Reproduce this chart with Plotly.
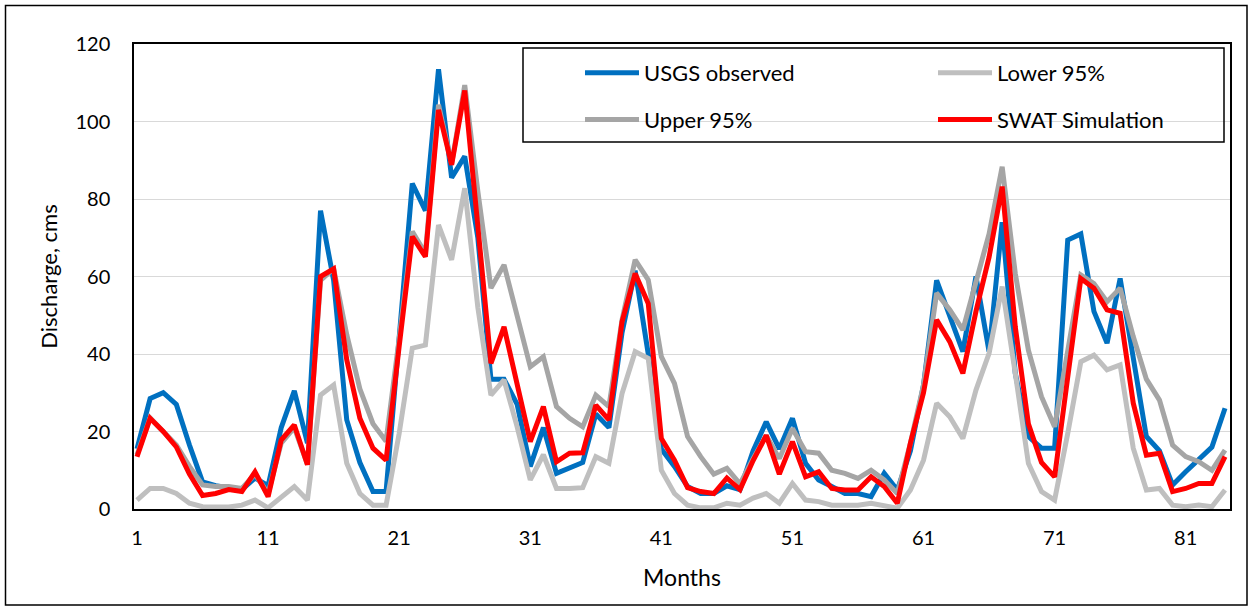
import plotly.graph_objects as go

months = list(range(1, 85))

usgs_observed = [15.5, 28.5, 30, 27, 16.5, 7, 6, 5.5, 5, 8,
                 6, 21, 30.5, 17, 77, 59, 23, 12, 4.5, 4.5,
                 45, 84, 77, 113.5, 85.5, 91, 70, 33.5, 33.5, 27,
                 11, 21, 9.2, 10.5, 12, 24.5, 21, 45.5, 61.5, 40,
                 15.5, 11, 5.8, 4, 4, 6, 5, 15, 22.5, 15.5,
                 23.4, 11.8, 7.5, 5.8, 4, 4, 3.2, 9.2, 4.9, 15,
                 32, 59, 50, 40.6, 60, 40.6, 74, 35, 18.7, 15.7,
                 15.7, 69.4, 71, 51, 42.8, 59.5, 39, 18.7, 15, 6.2,
                 9.6, 12.6, 16, 26]

lower_95 = [2.3, 5.3, 5.3, 4, 1.5, 0.6, 0.5, 0.5, 1, 2.3,
            0.3, 3.2, 5.8, 2.3, 29.4, 32, 11.8, 4, 1, 1,
            19.5, 41.5, 42.3, 73.3, 64.3, 82.8, 52, 29.4, 33.3, 21.2,
            7.5, 14, 5.3, 5.3, 5.5, 13.5, 11.8, 29.8, 40.6, 38.9,
            10, 4, 1, 0.3, 0.3, 1.5, 1, 2.8, 4, 1.5,
            6.6, 2.3, 1.9, 1, 1, 1, 1.5, 1, 0.2, 4.9,
            12.6, 27.3, 23.8, 18.2, 30.7, 40.2, 57.4, 35, 11.8, 4.5,
            2.3, 19.5, 38, 39.7, 35.9, 37.2, 15.7, 4.9, 5.3, 1,
            0.6, 1, 0.6, 4.9]

upper_95 = [14, 23.5, 20, 16.5, 11, 6.2, 5.8, 5.8, 5.3, 9,
            4, 17, 21, 11.5, 59, 62, 45, 31, 22, 17.5,
            44, 71.6, 66, 104.3, 89, 109.4, 82, 57, 63, 50,
            36.7, 39.3, 26.4, 23.4, 21.2, 29.4, 26.4, 48.8, 64.3, 59.1,
            39.3, 32.4, 18.7, 13.5, 9, 10.5, 6.5, 13, 19, 13,
            20.8, 14.8, 14.4, 10, 9.2, 7.9, 10, 7.5, 4, 17,
            32, 55.7, 51.4, 46.2, 59, 71, 88.3, 60.8, 41, 29,
            21.2, 41, 60.4, 58.2, 53.5, 57, 44.5, 33.5, 28.1, 16.5,
            13.5, 12.2, 10, 15.2]

swat_simulation = [13.5, 23.4, 20, 16, 9, 3.5, 4, 5, 4.5, 9.6,
                   3.2, 17.8, 21.7, 11.4, 60, 62, 38.5, 23.4, 15.7, 12.6,
                   42, 70.3, 65.1, 103, 88.8, 108, 73, 37.6, 47, 31.6,
                   17.4, 26.4, 12.2, 14.4, 14.5, 26.8, 23, 48.3, 60.8, 53,
                   18.2, 12.6, 5.5, 4.5, 4, 8, 5, 12.5, 19, 9,
                   17.4, 8.3, 9.6, 5.3, 4.9, 4.9, 8.3, 5.8, 1.5, 17,
                   30, 48.8, 43.2, 35, 51, 65, 83.2, 47, 22, 12,
                   8.3, 34, 59.5, 57, 51.4, 50.5, 27.3, 13.9, 14.4, 4.5,
                   5.3, 6.6, 6.6, 13.5]

x_tick_labels = [1, 11, 21, 31, 41, 51, 61, 71, 81]
y_tick_labels = [0, 20, 40, 60, 80, 100, 120]

FONT = "Lato"
W, H = 1250, 607
L, R, T, B = 134, 20, 44, 98
PW, PH = W - L - R, H - T - B


def px_x(p):
    return (p - L) / PW


def px_y(p):
    return (H - B - p) / PH


fig = go.Figure()
series = [
    ("USGS observed", usgs_observed, "#0070C0", "legend"),
    ("Lower 95%", lower_95, "#BFBFBF", "legend2"),
    ("Upper 95%", upper_95, "#A5A5A5", "legend"),
    ("SWAT Simulation", swat_simulation, "#FF0000", "legend2"),
]
for i, (name, vals, col, lg) in enumerate(series):
    fig.add_trace(go.Scatter(
        x=months, y=vals, mode="lines", name=name,
        line=dict(color=col, width=5),
        legend=lg, legendgroup=f"g{i}",
    ))

leg_common = dict(
    orientation="v", xanchor="left", yanchor="top",
    bgcolor="rgba(0,0,0,0)", borderwidth=0,
    font=dict(family=FONT, size=22, color="#000000"),
    itemwidth=54, tracegroupgap=15,
)

fig.update_layout(
    width=W, height=H,
    margin=dict(l=L, r=R, t=T, b=B, pad=0),
    paper_bgcolor="white", plot_bgcolor="white",
    font=dict(family=FONT, size=20, color="#000000"),
    showlegend=True,
    legend=dict(x=px_x(580), y=px_y(52), **leg_common),
    legend2=dict(x=px_x(933), y=px_y(52), **leg_common),
    xaxis=dict(
        range=[0.77, 84.38], tickmode="array", tickvals=x_tick_labels,
        ticktext=[str(v) for v in x_tick_labels],
        showgrid=False, zeroline=False, ticks="",
        showline=True, linecolor="black", linewidth=1.5, mirror=True,
        ticklabelstandoff=10,
        tickfont=dict(family=FONT, size=20),
        title=dict(text="Months", font=dict(family=FONT, size=23), standoff=22),
    ),
    yaxis=dict(
        range=[0, 120], tickmode="array", tickvals=y_tick_labels,
        showgrid=True, gridcolor="#D9D9D9", gridwidth=1.2, zeroline=False, ticks="",
        showline=True, linecolor="black", linewidth=1.5, mirror=True,
        ticklabelstandoff=18,
        tickfont=dict(family=FONT, size=20),
        title=dict(text="Discharge, cms", font=dict(family=FONT, size=22), standoff=12),
    ),
    shapes=[
        dict(type="rect", xref="paper", yref="paper",
             x0=px_x(523), x1=px_x(1224), y0=px_y(142), y1=px_y(48),
             line=dict(color="black", width=1.5), fillcolor="rgba(0,0,0,0)", layer="above"),
        dict(type="rect", xref="paper", yref="paper",
             x0=px_x(5.5), x1=px_x(1247), y0=px_y(605), y1=px_y(5.5),
             line=dict(color="black", width=1.5), fillcolor="rgba(0,0,0,0)", layer="above"),
    ],
)

fig.write_html(
    "out.html",
    config={"displayModeBar": False},
    post_script="document.body.style.margin='0';document.body.style.overflow='hidden';",
)
